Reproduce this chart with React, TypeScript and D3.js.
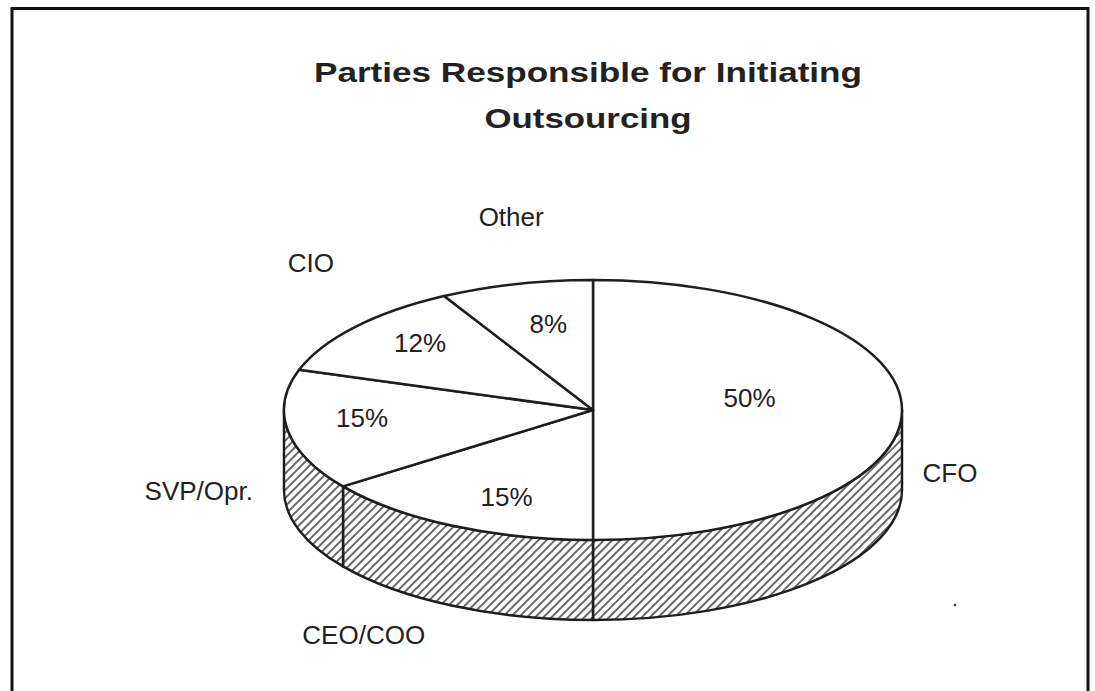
import React from "react";
import * as d3 from "d3";

const categories = ["CFO", "CEO/COO", "SVP/Opr.", "CIO", "Other"];
const values = [50, 15, 15, 12, 8];
const pctLabels = ["50%", "15%", "15%", "12%", "8%"];
const titleLines = ["Parties Responsible for Initiating", "Outsourcing"];

// layout
const W = 1095;
const H = 691;
const cx = 593;
const cy = 410;
const rx = 309;
const ry = 130;
const depth = 80;
const pctK = [0.51, 0.68, 0.75, 0.76, 0.62];
const pctOff: [number, number][] = [[-1, -12], [9, 8], [-2, -7], [8, -4], [3, -8]];
const catOff: [number, number][] = [[48, 32], [-89, 78], [-89, 30], [-44, -55], [-5, -58]];
const titleWidths = [548, 207];
const titleY = [82, 128];

const FONT = "'Liberation Sans', Arial, Helvetica, sans-serif";
const INK = "#1e1e1e";

function proj(a: number, k = 1, z = 0): [number, number] {
  return [cx + rx * k * Math.sin(a), cy - ry * k * Math.cos(a) + z];
}

export default function App() {
  const arcs = d3
    .pie<number>()
    .sort(null)
    .value((d) => d)
    .startAngle(0)
    .endAngle(2 * Math.PI)(values);

  const sidePaths: string[] = [];
  arcs.forEach((a) => {
    const s0 = Math.max(a.startAngle, Math.PI / 2);
    const s1 = Math.min(a.endAngle, (3 * Math.PI) / 2);
    if (s1 > s0 + 1e-6) {
      const t0 = proj(s0);
      const t1 = proj(s1);
      const b0 = proj(s0, 1, depth);
      const b1 = proj(s1, 1, depth);
      sidePaths.push(
        `M${t0[0]},${t0[1]} A${rx},${ry} 0 0 1 ${t1[0]},${t1[1]} L${b1[0]},${b1[1]} A${rx},${ry} 0 0 0 ${b0[0]},${b0[1]} Z`
      );
    }
  });

  const topPaths = arcs.map((a) => {
    const p0 = proj(a.startAngle);
    const p1 = proj(a.endAngle);
    const large = a.endAngle - a.startAngle > Math.PI + 1e-6 ? 1 : 0;
    return `M${cx},${cy} L${p0[0]},${p0[1]} A${rx},${ry} 0 ${large} 1 ${p1[0]},${p1[1]} Z`;
  });

  return (
    <svg
      width={W}
      height={H}
      viewBox={`0 0 ${W} ${H}`}
      style={{ position: "absolute", left: 0, top: 0, background: "#fff" }}
    >
      <defs>
        <pattern
          id="hatch"
          width={5.8}
          height={5.8}
          patternUnits="userSpaceOnUse"
          patternTransform="rotate(45)"
        >
          <rect width={5.8} height={5.8} fill="#fff" />
          <line x1={2.9} y1={0} x2={2.9} y2={5.8} stroke={INK} strokeWidth={1.3} />
        </pattern>
      </defs>
      <rect x={12} y={8.5} width={1076} height={720} fill="#fff" stroke="#111" strokeWidth={3} />

      <g fontFamily={FONT} fontWeight="bold" fontSize={28} fill="#222" textAnchor="middle">
        {titleLines.map((t, i) => (
          <text
            key={"title" + i}
            x={588}
            y={titleY[i]}
            textLength={titleWidths[i]}
            lengthAdjust="spacingAndGlyphs"
          >
            {t}
          </text>
        ))}
      </g>

      <g stroke={INK} strokeWidth={2.5} strokeLinejoin="round">
        {sidePaths.map((d, i) => (
          <path key={"s" + i} d={d} fill="url(#hatch)" />
        ))}
        {topPaths.map((d, i) => (
          <path key={"t" + i} d={d} fill="#fff" />
        ))}
      </g>

      <g fontFamily={FONT} fontSize={26} fill="#222" textAnchor="middle">
        {arcs.map((a, i) => {
          const mid = (a.startAngle + a.endAngle) / 2;
          const [x, y] = proj(mid, pctK[i]);
          return (
            <text key={"p" + i} x={x + pctOff[i][0]} y={y + pctOff[i][1]} dy="0.35em">
              {pctLabels[i]}
            </text>
          );
        })}
        {arcs.map((a, i) => {
          const mid = (a.startAngle + a.endAngle) / 2;
          const front = Math.cos(mid) < 0.01;
          const [x, y] = proj(mid, 1, front ? depth / 2 : 0);
          return (
            <text key={"c" + i} x={x + catOff[i][0]} y={y + catOff[i][1]}>
              {categories[i]}
            </text>
          );
        })}
      </g>
      <circle cx={955} cy={605} r={1.3} fill="#333" />
    </svg>
  );
}
